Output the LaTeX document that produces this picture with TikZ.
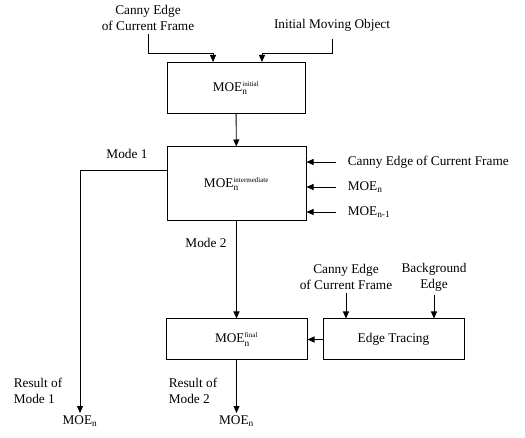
\documentclass[tikz,border=0pt]{standalone}
\usepackage{amsmath}
\usepackage{fontspec}
\setmainfont{Liberation Serif}
\usetikzlibrary{arrows.meta}

\newcommand{\moelabel}[2]{MOE$_{\text{#1}}^{\text{\scriptsize #2}}$}

\begin{document}
\begin{tikzpicture}[x=1pt, y=-1pt, font=\fontsize{13.3}{16}\selectfont,
  line width=0.9pt,
  ar/.style={-{Triangle[length=7pt, width=6pt]}},
  blk/.style={draw, line width=1pt, inner sep=0pt}]
  \useasboundingbox (0,0) rectangle (525,438);
  % blocks, placed at the pixel positions of the figure
  \node[blk, minimum width=138pt, minimum height=51pt] (init)  at (236,88)    {\moelabel{n}{initial}};
  \node[blk, minimum width=139pt, minimum height=74pt] (inter) at (236.5,184) {\moelabel{n}{intermediate}};
  \node[blk, minimum width=141pt, minimum height=41pt] (final) at (236.5,339.5) {\moelabel{n}{final}};
  \node[blk, minimum width=141pt, minimum height=41pt] (trace) at (393.5,339.5) {Edge Tracing};
  % inputs of the initial block
  \node[align=center] (cannyA)  at (148,18) {Canny Edge\\of Current Frame};
  \node               (initobj) at (332,25) {Initial Moving Object};
  \draw[ar] (cannyA.south) |- ([xshift=-23pt, yshift=9pt]init.north) -- ([xshift=-23pt]init.north);
  \draw[ar] ([yshift=-4pt]initobj.south) |- ([xshift=26pt, yshift=9pt]init.north) -- ([xshift=26pt]init.north);
  \draw[ar] (init) -- (inter);
  % inputs of the intermediate block
  \node[anchor=west] (cannyB) at (344,162) {Canny Edge of Current Frame};
  \node[anchor=west] (moen)   at (344,187) {MOE$_{\text{n}}$};
  \node[anchor=west] (moep)   at (344,212) {MOE$_{\text{n-1}}$};
  \draw[ar] ([xshift=-8pt]cannyB.west) -- (cannyB.west -| inter.east);
  \draw[ar] ([xshift=-8pt]moen.west)   -- (moen.west -| inter.east);
  \draw[ar] ([xshift=-8pt]moep.west)   -- (moep.west -| inter.east);
  % mode 1: straight to the output
  \node (mode1) at (127,154) {Mode 1};
  \coordinate (res1) at (80,413);
  \draw[ar] ([yshift=14pt]inter.west) -| (res1);
  \node[below, inner sep=2pt] (out1) at (res1) {MOE$_{\text{n}}$};
  \node[anchor=west, align=left] (resA) at (10,391) {Result of\\Mode 1};
  % mode 2: through the final block
  \node (mode2) at (206,243) {Mode 2};
  \draw[ar] (inter) -- (final);
  \coordinate (res2) at (236.5,413);
  \draw[ar] (final) -- (res2);
  \node[below, inner sep=2pt] (out2) at (res2) {MOE$_{\text{n}}$};
  \node[anchor=west, align=left] (resB) at (165,391) {Result of\\Mode 2};
  % edge tracing and its inputs
  \draw[ar] (trace) -- (final);
  \node[align=center] (cannyC) at (346,277) {Canny Edge\\of Current Frame};
  \node[align=center] (bgedge) at (434,277) {Background\\Edge};
  \draw[ar] (cannyC.south) -- (cannyC.south |- trace.north);
  \draw[ar] (bgedge.south) -- (bgedge.south |- trace.north);
\end{tikzpicture}
\end{document}
